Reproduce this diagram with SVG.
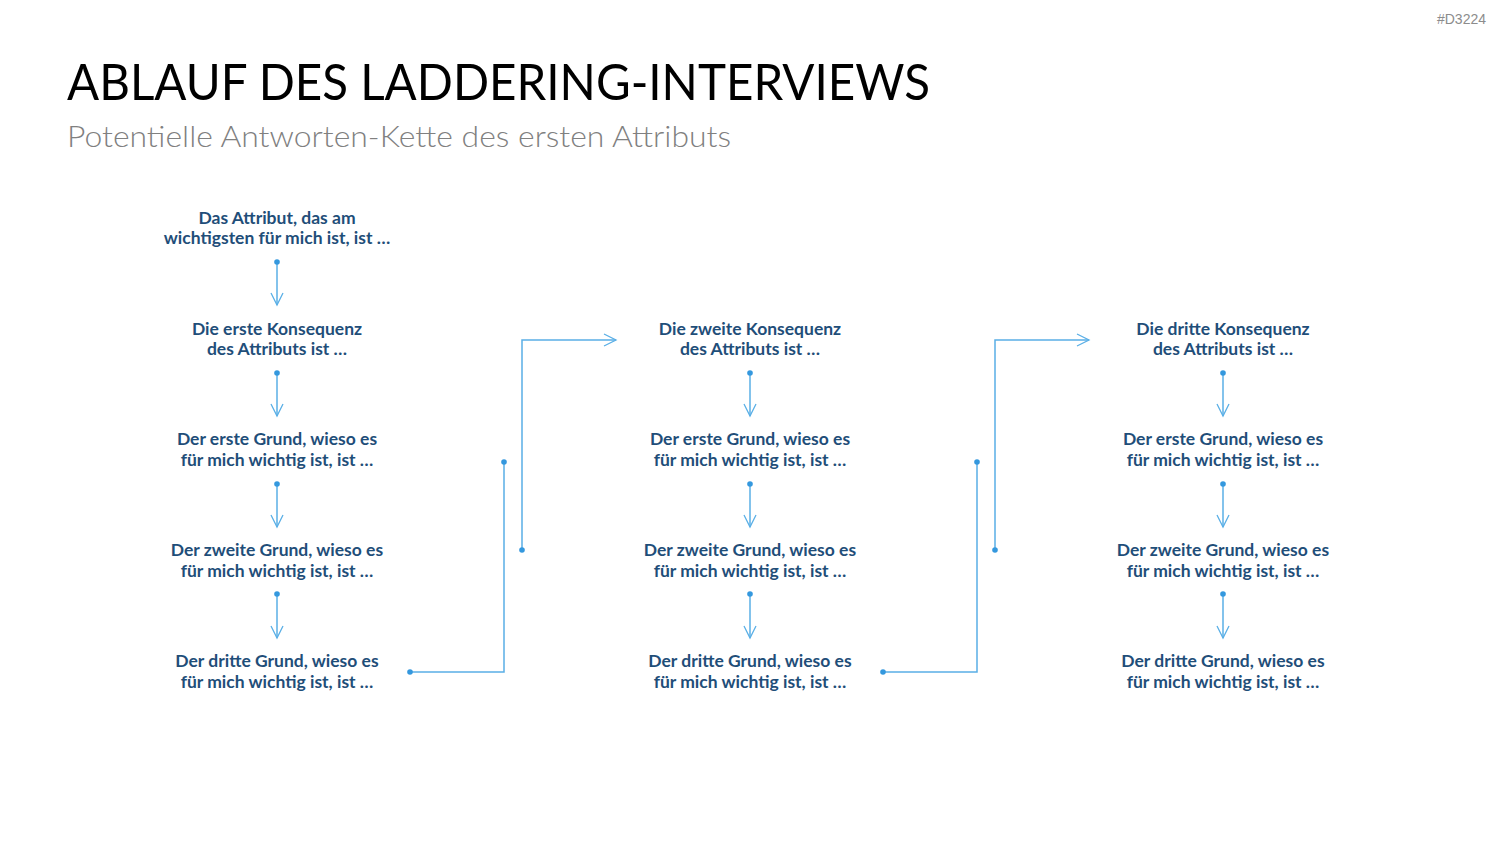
<svg xmlns="http://www.w3.org/2000/svg" width="1500" height="844" viewBox="0 0 1500 844">
<style>
.t{font-family:Lato,"Open Sans",sans-serif;font-weight:700;font-size:17.5px;fill:#1F4E79;text-anchor:middle}
.c{fill:none;stroke:#5AAFE6;stroke-width:1.5}
.d{fill:#3498DE}
</style>
<defs>
<marker id="ah" markerWidth="16" markerHeight="14" refX="13" refY="7" orient="auto" markerUnits="userSpaceOnUse">
<path d="M1,1 L13,7 L1,13" fill="none" stroke="#5AAFE6" stroke-width="1.3"/>
</marker>
</defs>
<rect width="1500" height="844" fill="#fff"/>
<text x="1486" y="24" font-family="'Liberation Sans',sans-serif" font-size="14" fill="#8C8C8C" text-anchor="end">#D3224</text>
<text x="67" y="100" font-family="Lato,'Open Sans',sans-serif" font-size="50" fill="#000" textLength="863" lengthAdjust="spacingAndGlyphs">ABLAUF DES LADDERING-INTERVIEWS</text>
<text x="67" y="147" font-family="Lato,'Open Sans',sans-serif" font-weight="300" font-size="29" fill="#808080" textLength="664" lengthAdjust="spacingAndGlyphs">Potentielle Antworten-Kette des ersten Attributs</text>

<g id="n1"><text class="t" x="277" y="224">Das Attribut, das am</text><text class="t" x="277" y="244">wichtigsten für mich ist, ist …</text></g>
<g id="n2"><text class="t" x="277" y="335">Die erste Konsequenz</text><text class="t" x="277" y="355">des Attributs ist …</text></g>
<g id="n3"><text class="t" x="277" y="445">Der erste Grund, wieso es</text><text class="t" x="277" y="466">für mich wichtig ist, ist …</text></g>
<g id="n4"><text class="t" x="277" y="556">Der zweite Grund, wieso es</text><text class="t" x="277" y="577">für mich wichtig ist, ist …</text></g>
<g id="n5"><text class="t" x="277" y="667">Der dritte Grund, wieso es</text><text class="t" x="277" y="688">für mich wichtig ist, ist …</text></g>

<g id="n6"><text class="t" x="750" y="335">Die zweite Konsequenz</text><text class="t" x="750" y="355">des Attributs ist …</text></g>
<g id="n7"><text class="t" x="750" y="445">Der erste Grund, wieso es</text><text class="t" x="750" y="466">für mich wichtig ist, ist …</text></g>
<g id="n8"><text class="t" x="750" y="556">Der zweite Grund, wieso es</text><text class="t" x="750" y="577">für mich wichtig ist, ist …</text></g>
<g id="n9"><text class="t" x="750" y="667">Der dritte Grund, wieso es</text><text class="t" x="750" y="688">für mich wichtig ist, ist …</text></g>

<g id="n10"><text class="t" x="1223" y="335">Die dritte Konsequenz</text><text class="t" x="1223" y="355">des Attributs ist …</text></g>
<g id="n11"><text class="t" x="1223" y="445">Der erste Grund, wieso es</text><text class="t" x="1223" y="466">für mich wichtig ist, ist …</text></g>
<g id="n12"><text class="t" x="1223" y="556">Der zweite Grund, wieso es</text><text class="t" x="1223" y="577">für mich wichtig ist, ist …</text></g>
<g id="n13"><text class="t" x="1223" y="667">Der dritte Grund, wieso es</text><text class="t" x="1223" y="688">für mich wichtig ist, ist …</text></g>

<g id="connectors">
<path class="c" d="M277,262 V305" marker-end="url(#ah)"/><circle class="d" cx="277" cy="262" r="2.8"/>
<path class="c" d="M277,373 V416" marker-end="url(#ah)"/><circle class="d" cx="277" cy="373" r="2.8"/>
<path class="c" d="M277,484 V527" marker-end="url(#ah)"/><circle class="d" cx="277" cy="484" r="2.8"/>
<path class="c" d="M277,594 V638" marker-end="url(#ah)"/><circle class="d" cx="277" cy="594" r="2.8"/>

<path class="c" d="M750,373 V416" marker-end="url(#ah)"/><circle class="d" cx="750" cy="373" r="2.8"/>
<path class="c" d="M750,484 V527" marker-end="url(#ah)"/><circle class="d" cx="750" cy="484" r="2.8"/>
<path class="c" d="M750,594 V638" marker-end="url(#ah)"/><circle class="d" cx="750" cy="594" r="2.8"/>

<path class="c" d="M1223,373 V416" marker-end="url(#ah)"/><circle class="d" cx="1223" cy="373" r="2.8"/>
<path class="c" d="M1223,484 V527" marker-end="url(#ah)"/><circle class="d" cx="1223" cy="484" r="2.8"/>
<path class="c" d="M1223,594 V638" marker-end="url(#ah)"/><circle class="d" cx="1223" cy="594" r="2.8"/>

<path class="c" d="M410,672 H504 V462"/><circle class="d" cx="410" cy="672" r="2.8"/><circle class="d" cx="504" cy="462" r="2.8"/>
<path class="c" d="M522,550 V340 H616" marker-end="url(#ah)"/><circle class="d" cx="522" cy="550" r="2.8"/>

<path class="c" d="M883,672 H977 V462"/><circle class="d" cx="883" cy="672" r="2.8"/><circle class="d" cx="977" cy="462" r="2.8"/>
<path class="c" d="M995,550 V340 H1089" marker-end="url(#ah)"/><circle class="d" cx="995" cy="550" r="2.8"/>
</g>
</svg>
